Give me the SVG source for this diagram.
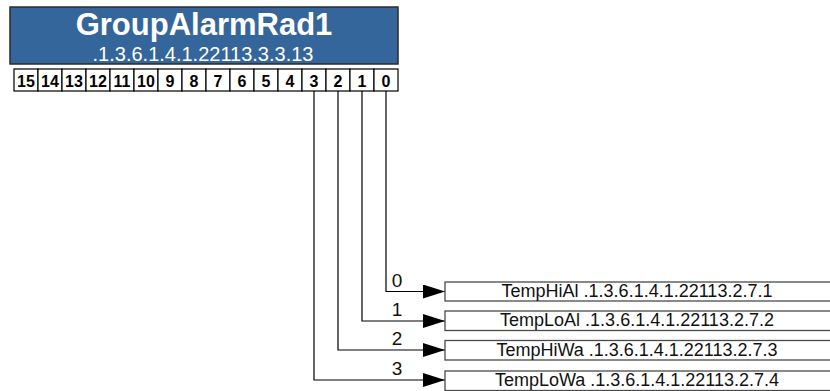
<svg xmlns="http://www.w3.org/2000/svg" width="830" height="391" viewBox="0 0 830 391">
<style>
.hdr{fill:#35669b;stroke:#2b2b2b;stroke-width:1.5}
.bit{fill:#fff;stroke:#000;stroke-width:1.2}
.bt{font-family:"Liberation Sans",Arial,sans-serif;font-weight:bold;font-size:16px;text-anchor:middle;fill:#000}
.box{fill:#fff;stroke:#4a4a4a;stroke-width:1.3}
.bx{font-family:"Liberation Sans",Arial,sans-serif;font-size:18px;text-anchor:middle;fill:#111}
.num{font-family:"Liberation Sans",Arial,sans-serif;font-size:19px;text-anchor:middle;fill:#111}
.ln{fill:none;stroke:#000;stroke-width:1.2}
</style>
<defs>
<marker id="ah" markerWidth="22" markerHeight="14" refX="22" refY="7" orient="auto" markerUnits="userSpaceOnUse">
<path d="M0,0 L22,7 L0,14 Z" fill="#000"/>
</marker>
</defs>
<g id="header">
<rect class="hdr" x="10" y="7" width="388" height="57"/>
<text x="204" y="35" font-family="Liberation Sans,Arial,sans-serif" font-weight="bold" font-size="31" text-anchor="middle" fill="#fff">GroupAlarmRad1</text>
<text x="203" y="61" font-family="Liberation Sans,Arial,sans-serif" font-size="20" text-anchor="middle" fill="#fff">.1.3.6.1.4.1.22113.3.3.13</text>
</g>
<g id="bits">
<rect class="bit" x="14" y="69" width="24" height="22"/><text class="bt" x="26" y="87">15</text>
<rect class="bit" x="38" y="69" width="24" height="22"/><text class="bt" x="50" y="87">14</text>
<rect class="bit" x="62" y="69" width="24" height="22"/><text class="bt" x="74" y="87">13</text>
<rect class="bit" x="86" y="69" width="24" height="22"/><text class="bt" x="98" y="87">12</text>
<rect class="bit" x="110" y="69" width="24" height="22"/><text class="bt" x="122" y="87">11</text>
<rect class="bit" x="134" y="69" width="24" height="22"/><text class="bt" x="146" y="87">10</text>
<rect class="bit" x="158" y="69" width="24" height="22"/><text class="bt" x="170" y="87">9</text>
<rect class="bit" x="182" y="69" width="24" height="22"/><text class="bt" x="194" y="87">8</text>
<rect class="bit" x="206" y="69" width="24" height="22"/><text class="bt" x="218" y="87">7</text>
<rect class="bit" x="230" y="69" width="24" height="22"/><text class="bt" x="242" y="87">6</text>
<rect class="bit" x="254" y="69" width="24" height="22"/><text class="bt" x="266" y="87">5</text>
<rect class="bit" x="278" y="69" width="24" height="22"/><text class="bt" x="290" y="87">4</text>
<rect class="bit" x="302" y="69" width="24" height="22"/><text class="bt" x="314" y="87">3</text>
<rect class="bit" x="326" y="69" width="24" height="22"/><text class="bt" x="338" y="87">2</text>
<rect class="bit" x="350" y="69" width="24" height="22"/><text class="bt" x="362" y="87">1</text>
<rect class="bit" x="374" y="69" width="24" height="22"/><text class="bt" x="386" y="87">0</text>
</g>
<g id="connectors">
<path class="ln" d="M386,91 V291.5 H445" marker-end="url(#ah)"/>
<path class="ln" d="M362,91 V321 H445" marker-end="url(#ah)"/>
<path class="ln" d="M338,91 V350 H445" marker-end="url(#ah)"/>
<path class="ln" d="M314,91 V380 H445" marker-end="url(#ah)"/>
<text class="num" x="397" y="287">0</text>
<text class="num" x="397" y="316">1</text>
<text class="num" x="397" y="345">2</text>
<text class="num" x="397" y="375">3</text>
</g>
<g id="out0">
<rect class="box" x="445" y="282" width="390" height="19"/>
<text class="bx" x="637" y="297">TempHiAl .1.3.6.1.4.1.22113.2.7.1</text>
</g>
<g id="out1">
<rect class="box" x="445" y="311" width="390" height="19.5"/>
<text class="bx" x="637" y="326">TempLoAl .1.3.6.1.4.1.22113.2.7.2</text>
</g>
<g id="out2">
<rect class="box" x="445" y="340.5" width="390" height="19.5"/>
<text class="bx" x="637" y="355.5">TempHiWa .1.3.6.1.4.1.22113.2.7.3</text>
</g>
<g id="out3">
<rect class="box" x="445" y="371" width="390" height="19.5"/>
<text class="bx" x="637" y="386">TempLoWa .1.3.6.1.4.1.22113.2.7.4</text>
</g>
</svg>
